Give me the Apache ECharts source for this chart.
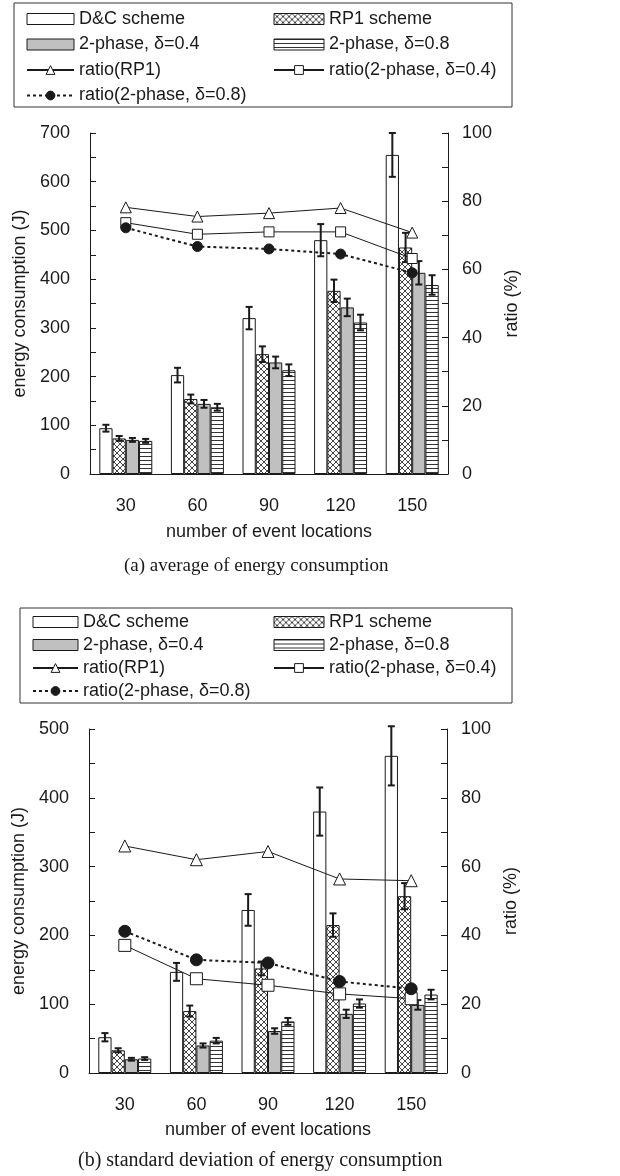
<!DOCTYPE html>
<html>
<head>
<meta charset="utf-8">
<script src="https://cdn.jsdelivr.net/npm/echarts@6/dist/echarts.min.js"></script>
<style>
html, body { margin: 0; padding: 0; background: #fff; }
#chartA { width: 620px; height: 590px; }
#chartB { width: 620px; height: 586px; }
</style>
</head>
<body>
<div id="chartA"></div>
<div id="chartB"></div>
<script>
var categories = ['30', '60', '90', '120', '150'];
var barNames = ['D&C scheme', 'RP1 scheme', '2-phase, δ=0.4', '2-phase, δ=0.8'];
var ratioNames = ['ratio(RP1)', 'ratio(2-phase, δ=0.4)', 'ratio(2-phase, δ=0.8)'];

// (a) average of energy consumption
var avgDC = [94, 203, 320, 480, 655];
var avgRP1 = [73, 154, 246, 376, 465];
var avgP04 = [70, 144, 229, 342, 413];
var avgP08 = [68, 137, 213, 311, 388];
var avgErrDC = [7, 15, 23, 33, 45];
var avgErrRP1 = [5, 9, 16, 23, 30];
var avgErrP04 = [4, 8, 12, 18, 24];
var avgErrP08 = [4, 7, 12, 16, 20];
var avgRatioRP1 = [78.2, 75.5, 76.5, 78, 70.8];
var avgRatioP04 = [73.7, 70.3, 71, 71, 63.2];
var avgRatioP08 = [72.2, 66.7, 66, 64.5, 59];

// (b) standard deviation of energy consumption
var stdDC = [52, 147, 237, 380, 461];
var stdRP1 = [33, 90, 152, 215, 257];
var stdP04 = [20, 40, 61, 86, 99];
var stdP08 = [21, 47, 75, 101, 114];
var stdErrDC = [6, 13, 23, 35, 43];
var stdErrRP1 = [3, 8, 10, 17, 19];
var stdErrP04 = [2, 3, 4, 6, 7];
var stdErrP08 = [2, 4, 5, 6, 7];
var stdRatioRP1 = [66, 62, 64.4, 56.4, 55.9];
var stdRatioP04 = [37.1, 27.4, 25.5, 23, 21.6];
var stdRatioP08 = [41.2, 32.9, 32, 26.6, 24.5];

var INK = '#1a1a1a';
var FONT = 'Liberation Sans';
var GAP = 0.26;

function crossPattern() {
    var c = document.createElement('canvas');
    c.width = 6; c.height = 6;
    var g = c.getContext('2d');
    g.fillStyle = '#fff';
    g.fillRect(0, 0, 6, 6);
    g.strokeStyle = '#444';
    g.lineWidth = 1;
    g.beginPath();
    g.moveTo(-1, -1); g.lineTo(7, 7);
    g.moveTo(7, -1); g.lineTo(-1, 7);
    g.stroke();
    return { image: c, repeat: 'repeat' };
}

function stripePattern() {
    var c = document.createElement('canvas');
    c.width = 4; c.height = 4;
    var g = c.getContext('2d');
    g.fillStyle = '#fff';
    g.fillRect(0, 0, 4, 4);
    g.fillStyle = '#333';
    g.fillRect(0, 0, 4, 1);
    return { image: c, repeat: 'repeat' };
}

var barFills = ['#fff', crossPattern(), '#c0c0c0', stripePattern()];

// error bars drawn on top of the i-th bar of each group
function errorSeries(vals, errs, idx) {
    return {
        type: 'custom',
        silent: true,
        z: 3,
        data: vals.map(function (v, i) { return [i, v - errs[i], v + errs[i]]; }),
        encode: { x: 0, y: [1, 2] },
        renderItem: function (params, api) {
            var lo = api.coord([api.value(0), api.value(1)]);
            var hi = api.coord([api.value(0), api.value(2)]);
            var groupW = api.size([1, 0])[0] * (1 - GAP);
            var bw = groupW / 4;
            var x = lo[0] - groupW / 2 + bw * (idx + 0.5);
            var st = { stroke: INK, lineWidth: 2 };
            return {
                type: 'group',
                children: [
                    { type: 'line', shape: { x1: x, y1: lo[1], x2: x, y2: hi[1] }, style: st },
                    { type: 'line', shape: { x1: x - 3.5, y1: lo[1], x2: x + 3.5, y2: lo[1] }, style: st },
                    { type: 'line', shape: { x1: x - 3.5, y1: hi[1], x2: x + 3.5, y2: hi[1] }, style: st }
                ]
            };
        }
    };
}

function legendItems(names) {
    return names.map(function (n) {
        if (barNames.indexOf(n) >= 0) return { name: n, icon: 'rect' };
        if (n === ratioNames[2]) return { name: n, itemStyle: { color: INK } };
        return { name: n, itemStyle: { color: '#fff', borderColor: INK, borderWidth: 1 } };
    });
}

function buildOption(c) {
    var bars = c.bars.map(function (vals, i) {
        return {
            name: barNames[i],
            type: 'bar',
            data: vals,
            barGap: 0,
            barCategoryGap: (GAP * 100) + '%',
            itemStyle: { color: barFills[i], borderColor: INK, borderWidth: 1 }
        };
    });
    var errs = c.bars.map(function (vals, i) { return errorSeries(vals, c.errs[i], i); });
    var symbols = ['triangle', 'rect', 'circle'];
    var lines = c.ratios.map(function (vals, i) {
        return {
            name: ratioNames[i],
            type: 'line',
            yAxisIndex: 1,
            data: vals,
            z: 5,
            symbol: symbols[i],
            symbolSize: c.symSize[i],
            lineStyle: { color: INK, width: i === 2 ? 2 : 1, type: i === 2 ? [3, 3] : 'solid' },
            itemStyle: { color: i === 2 ? INK : '#fff', borderColor: INK, borderWidth: 1 }
        };
    });
    var legendBase = {
        orient: 'vertical',
        padding: 0,
        itemHeight: 11,
        selectedMode: false,
        itemStyle: { borderWidth: 1, borderColor: INK },
        textStyle: { fontFamily: FONT, fontSize: 18, color: INK, lineHeight: 20 }
    };
    return {
        backgroundColor: '#fff',
        animation: false,
        textStyle: { fontFamily: FONT },
        title: {
            text: c.caption,
            left: c.captionLeft,
            top: c.captionTop,
            padding: 0,
            textStyle: { fontFamily: 'Liberation Serif', fontSize: c.captionSize, fontWeight: 'normal', color: INK }
        },
        graphic: [{
            type: 'rect',
            shape: c.legendBox,
            style: { fill: 'none', stroke: '#333', lineWidth: 1 }
        }],
        legend: [
            Object.assign({}, legendBase, {
                left: c.legendLeft, top: c.legendTop, itemWidth: c.legendIconW, itemGap: c.legendGap,
                data: legendItems([barNames[0], barNames[2], ratioNames[0], ratioNames[2]])
            }),
            Object.assign({}, legendBase, {
                left: 273, top: c.legendTop, itemWidth: 50, itemGap: c.legendGap,
                data: legendItems([barNames[1], barNames[3], ratioNames[1]])
            })
        ],
        grid: c.grid,
        xAxis: {
            type: 'category',
            data: categories,
            name: 'number of event locations',
            nameLocation: 'middle',
            nameGap: c.xNameGap,
            nameTextStyle: { fontSize: 18, color: INK },
            axisLine: { lineStyle: { color: INK, width: 1 } },
            axisTick: { inside: true, length: 6, lineStyle: { color: INK } },
            axisLabel: { fontSize: 18, color: INK, margin: c.xLabelMargin },
            splitLine: { show: false }
        },
        yAxis: [{
            type: 'value',
            min: 0,
            max: c.yMax,
            interval: 50,
            name: 'energy consumption (J)',
            nameLocation: 'middle',
            nameRotate: 90,
            nameGap: 52,
            nameTextStyle: { fontSize: 18, color: INK },
            axisLine: { show: true, lineStyle: { color: INK, width: 1 } },
            axisTick: { show: true, inside: true, length: 6, lineStyle: { color: INK } },
            axisLabel: {
                fontSize: 18, color: INK, margin: 20,
                formatter: function (v) { return v % 100 === 0 ? String(v) : ''; }
            },
            splitLine: { show: false }
        }, {
            type: 'value',
            min: 0,
            max: 100,
            interval: 10,
            name: 'ratio (%)',
            nameLocation: 'middle',
            nameRotate: 90,
            nameGap: 44,
            nameTextStyle: { fontSize: 18, color: INK },
            axisLine: { show: true, lineStyle: { color: INK, width: 1 } },
            axisTick: { show: true, inside: true, length: 6, lineStyle: { color: INK } },
            axisLabel: {
                fontSize: 18, color: INK, margin: 14,
                formatter: function (v) { return v % 20 === 0 ? String(v) : ''; }
            },
            splitLine: { show: false }
        }],
        series: bars.concat(errs).concat(lines)
    };
}

var chartA = echarts.init(document.getElementById('chartA'));
chartA.setOption(buildOption({
    bars: [avgDC, avgRP1, avgP04, avgP08],
    errs: [avgErrDC, avgErrRP1, avgErrP04, avgErrP08],
    ratios: [avgRatioRP1, avgRatioP04, avgRatioP08],
    yMax: 700,
    grid: { left: 90, right: 172, top: 133, bottom: 116 },
    symSize: [11, 10, 10],
    xNameGap: 49,
    xLabelMargin: 23,
    caption: '(a) average of energy consumption',
    captionLeft: 124,
    captionTop: 557,
    captionSize: 19,
    legendBox: { x: 14, y: 3, width: 498, height: 104 },
    legendLeft: 26,
    legendTop: 9,
    legendIconW: 47,
    legendGap: 5.5
}));

var chartB = echarts.init(document.getElementById('chartB'));
chartB.setOption(buildOption({
    bars: [stdDC, stdRP1, stdP04, stdP08],
    errs: [stdErrDC, stdErrRP1, stdErrP04, stdErrP08],
    ratios: [stdRatioRP1, stdRatioP04, stdRatioP08],
    yMax: 500,
    grid: { left: 89, right: 173, top: 139, bottom: 103 },
    symSize: [12, 12, 12],
    xNameGap: 48,
    xLabelMargin: 23,
    caption: '(b) standard deviation of energy consumption',
    captionLeft: 78,
    captionTop: 561,
    captionSize: 20,
    legendBox: { x: 20, y: 18, width: 492, height: 95 },
    legendLeft: 32,
    legendTop: 22,
    legendIconW: 45,
    legendGap: 3
}));
</script>
</body>
</html>
